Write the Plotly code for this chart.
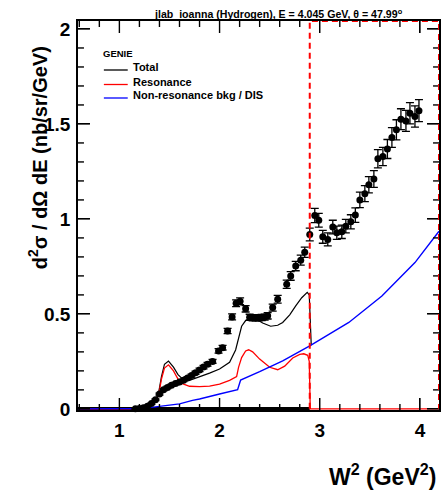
import plotly.graph_objects as go

# ---------------- data ----------------
data_w2 = [1.16, 1.20, 1.24, 1.28, 1.32, 1.36, 1.40, 1.44, 1.48, 1.52, 1.56, 1.60, 1.64, 1.68,
           1.72, 1.76, 1.80, 1.84, 1.88, 1.93, 1.99, 2.03, 2.08, 2.125, 2.165, 2.205, 2.26,
           2.30, 2.33, 2.36, 2.39, 2.42, 2.45, 2.48, 2.53, 2.58, 2.67, 2.71, 2.76, 2.81, 2.85,
           2.90, 2.95, 2.99, 3.03, 3.08, 3.13, 3.17, 3.22, 3.26, 3.31, 3.355, 3.40, 3.45, 3.49,
           3.54, 3.58, 3.63, 3.675, 3.72, 3.765, 3.81, 3.86, 3.90, 3.95, 3.99]
data_xs = [0.000, 0.002, 0.006, 0.014, 0.028, 0.048, 0.078, 0.100, 0.113, 0.124, 0.133, 0.142,
           0.150, 0.162, 0.175, 0.190, 0.205, 0.220, 0.235, 0.250, 0.305, 0.322, 0.410, 0.484,
           0.556, 0.566, 0.527, 0.482, 0.480, 0.480, 0.480, 0.481, 0.483, 0.490, 0.533, 0.577,
           0.656, 0.700, 0.752, 0.783, 0.825, 0.918, 1.018, 0.993, 0.906, 0.892, 0.957, 0.927,
           0.932, 0.962, 0.985, 1.020, 1.100, 1.133, 1.180, 1.210, 1.317, 1.329, 1.368, 1.429,
           1.469, 1.525, 1.516, 1.556, 1.539, 1.570]
data_err = [0.003, 0.003, 0.003, 0.004, 0.004, 0.004, 0.005, 0.005, 0.006, 0.006, 0.006, 0.007,
            0.007, 0.007, 0.008, 0.008, 0.009, 0.009, 0.010, 0.010, 0.012, 0.012, 0.014, 0.016,
            0.018, 0.018, 0.017, 0.016, 0.016, 0.016, 0.016, 0.016, 0.016, 0.017, 0.018, 0.020,
            0.022, 0.023, 0.025, 0.026, 0.027, 0.034, 0.037, 0.036, 0.034, 0.034, 0.036, 0.035,
            0.035, 0.036, 0.037, 0.038, 0.041, 0.042, 0.043, 0.044, 0.048, 0.048, 0.050, 0.052,
            0.053, 0.055, 0.055, 0.056, 0.056, 0.058]

total_w2 = [0.587, 1.10, 1.20, 1.30, 1.34, 1.39, 1.42, 1.45, 1.49, 1.54, 1.585, 1.635, 1.70,
            1.80, 1.90, 2.00, 2.10, 2.16, 2.19, 2.22, 2.26, 2.30, 2.36, 2.43, 2.51, 2.58, 2.63,
            2.70, 2.76, 2.82, 2.875, 2.895, 2.915]
total_xs = [0.0, 0.0, 0.005, 0.018, 0.030, 0.080, 0.170, 0.235, 0.252, 0.220, 0.180, 0.155,
            0.150, 0.168, 0.188, 0.210, 0.245, 0.310, 0.380, 0.435, 0.465, 0.478, 0.475, 0.452,
            0.435, 0.440, 0.455, 0.495, 0.542, 0.585, 0.613, 0.600, 0.335]

res_w2 = [0.587, 1.10, 1.20, 1.30, 1.34, 1.39, 1.42, 1.45, 1.49, 1.54, 1.585, 1.635, 1.70, 1.80,
          1.90, 2.00, 2.10, 2.17, 2.19, 2.22, 2.26, 2.29, 2.33, 2.40, 2.50, 2.58, 2.65, 2.73,
          2.80, 2.84, 2.88, 2.895, 2.905, 4.19]
res_xs = [0.0, 0.0, 0.004, 0.015, 0.026, 0.070, 0.157, 0.215, 0.232, 0.200, 0.157, 0.131, 0.119,
          0.117, 0.120, 0.130, 0.150, 0.170, 0.220, 0.270, 0.305, 0.311, 0.300, 0.262, 0.219,
          0.206, 0.225, 0.268, 0.287, 0.290, 0.282, 0.250, 0.0, 0.0]

dis_w2 = [0.587, 1.08, 1.20, 1.34, 1.50, 1.60, 1.73, 1.80, 2.00, 2.18, 2.21, 2.30, 2.40, 2.63,
          2.90, 3.29, 3.62, 3.95, 4.19]
dis_xs = [0.0, 0.0, 0.002, 0.009, 0.018, 0.026, 0.045, 0.052, 0.078, 0.101, 0.152, 0.172, 0.196,
          0.253, 0.332, 0.455, 0.594, 0.770, 0.935]

zero_w2 = [0.587, 2.90]
zero_xs = [0.0, 0.0]

w2_cut = 2.90
x_range = [0.587, 4.19]
y_range = [-0.006, 2.042]

x_ticks = [1, 2, 3, 4]
x_ticklabels = ["1", "2", "3", "4"]
x_minor = [0.6, 0.8, 1.2, 1.4, 1.6, 1.8, 2.2, 2.4, 2.6, 2.8, 3.2, 3.4, 3.6, 3.8]
y_ticks = [0, 0.5, 1, 1.5, 2]
y_ticklabels = ["0", "0.5", "1", "1.5", "2"]
y_minor = [0.1, 0.2, 0.3, 0.4, 0.6, 0.7, 0.8, 0.9, 1.1, 1.2, 1.3, 1.4, 1.6, 1.7, 1.8, 1.9]

legend_header = "GENIE"
legend_labels = ["Total", "Resonance", "Non-resonance bkg / DIS"]
legend_colors = ["black", "red", "blue"]

title_text = "jlab_ioanna (Hydrogen), E = 4.045 GeV, θ = 47.99<sup>o</sup>"
ytitle_text = "d<sup>2</sup>σ / dΩ dE (nb/sr/GeV)"
xtitle_text = "W<sup>2</sup> (GeV<sup>2</sup>)"

# ---------------- layout geometry ----------------
W, H = 443, 493
L, R, T, B = 78, 441, 21, 410
pw, ph = R - L, B - T
MAJOR_LEN, MINOR_LEN = 12, 6
x_per_px = (x_range[1] - x_range[0]) / pw
y_per_px = (y_range[1] - y_range[0]) / ph


def px2paper_x(px):
    return (px - L) / pw


def px2paper_y(py):
    return (B - py) / ph


FONT = "Liberation Sans, Arial, Helvetica, sans-serif"

fig = go.Figure()

fig.add_trace(go.Scatter(x=zero_w2, y=zero_xs, mode="lines",
                         line=dict(color="black", width=3.5), showlegend=False))
fig.add_trace(go.Scatter(x=total_w2, y=total_xs, mode="lines",
                         line=dict(color="black", width=1.2), showlegend=False))
fig.add_trace(go.Scatter(x=res_w2, y=res_xs, mode="lines",
                         line=dict(color="red", width=1.3), showlegend=False))
fig.add_trace(go.Scatter(x=dis_w2, y=dis_xs, mode="lines",
                         line=dict(color="blue", width=1.4), showlegend=False))
fig.add_trace(go.Scatter(x=data_w2, y=data_xs, mode="markers",
                         marker=dict(color="black", size=7, symbol="circle"),
                         error_y=dict(type="data", array=data_err, color="black",
                                      thickness=1.3, width=4),
                         cliponaxis=False, showlegend=False))

# frame ticks (inside, on all four sides, ROOT style) built from the tick lists
tx, ty = [], []
for vals, ln in ((x_ticks, MAJOR_LEN), (x_minor, MINOR_LEN)):
    for v in vals:
        tx += [v, v, None, v, v, None]
        ty += [y_range[0], y_range[0] + ln * y_per_px, None,
               y_range[1], y_range[1] - ln * y_per_px, None]
for vals, ln in ((y_ticks, MAJOR_LEN), (y_minor, MINOR_LEN)):
    for v in vals:
        tx += [x_range[0], x_range[0] + ln * x_per_px, None,
               x_range[1], x_range[1] - ln * x_per_px, None]
        ty += [v, v, None, v, v, None]
fig.add_trace(go.Scatter(x=tx, y=ty, mode="lines", line=dict(color="black", width=1.4),
                         connectgaps=False, hoverinfo="skip", showlegend=False))

# red dashed outline marking W2 region beyond cut (left, top, right sides)
ymax = y_range[1]
fig.add_shape(type="path", xref="x", yref="y",
              path=f"M {w2_cut},0 L {w2_cut},{ymax} L {x_range[1]},{ymax} L {x_range[1]},0",
              line=dict(color="red", width=2, dash="6px,4px"), layer="above")

tickfont = dict(family=FONT, size=19, color="black", weight="bold")

fig.update_xaxes(range=x_range, tickmode="array", tickvals=x_ticks, ticktext=x_ticklabels,
                 ticks="inside", ticklen=MAJOR_LEN, tickwidth=1.4, tickcolor="black",
                 showline=True, linecolor="black", linewidth=1.5, mirror="allticks",
                 showgrid=False, zeroline=False, tickfont=tickfont, ticklabelstandoff=2)
fig.update_yaxes(range=y_range, tickmode="array", tickvals=y_ticks, ticktext=y_ticklabels,
                 ticks="inside", ticklen=MAJOR_LEN, tickwidth=1.4, tickcolor="black",
                 showline=True, linecolor="black", linewidth=1.5, mirror="allticks",
                 showgrid=False, zeroline=False, tickfont=tickfont, ticklabelstandoff=2)

annotations = []
annotations.append(dict(text=title_text, xref="paper", yref="paper",
                        x=px2paper_x(280), y=px2paper_y(13), xanchor="center", yanchor="middle",
                        showarrow=False,
                        font=dict(family=FONT, size=10.6, color="black", weight="bold")))
annotations.append(dict(text=ytitle_text, xref="paper", yref="paper",
                        x=px2paper_x(37), y=px2paper_y(158), xanchor="center", yanchor="middle",
                        textangle=-90, showarrow=False,
                        font=dict(family=FONT, size=20, color="black", weight="bold")))
annotations.append(dict(text=xtitle_text, xref="paper", yref="paper",
                        x=px2paper_x(440), y=px2paper_y(475), xanchor="right", yanchor="middle",
                        showarrow=False,
                        font=dict(family=FONT, size=23, color="black", weight="bold")))
annotations.append(dict(text=legend_header, xref="paper", yref="paper",
                        x=px2paper_x(101), y=px2paper_y(54), xanchor="left", yanchor="middle",
                        showarrow=False,
                        font=dict(family=FONT, size=9.5, color="black", weight="bold")))
legend_y_px = [67, 81.5, 95]
for lab, col, ypx in zip(legend_labels, legend_colors, legend_y_px):
    annotations.append(dict(text=lab, xref="paper", yref="paper",
                            x=px2paper_x(131), y=px2paper_y(ypx), xanchor="left",
                            yanchor="middle", showarrow=False,
                            font=dict(family=FONT, size=11, color="black", weight="bold")))
    fig.add_shape(type="line", xref="paper", yref="paper",
                  x0=px2paper_x(104), x1=px2paper_x(128),
                  y0=px2paper_y(ypx + 3), y1=px2paper_y(ypx + 3),
                  line=dict(color=col, width=1.3))

fig.update_layout(width=W, height=H, margin=dict(l=L, r=W - R, t=T, b=H - B),
                  paper_bgcolor="white", plot_bgcolor="white",
                  annotations=annotations, showlegend=False)

fig.write_html("out.html")
